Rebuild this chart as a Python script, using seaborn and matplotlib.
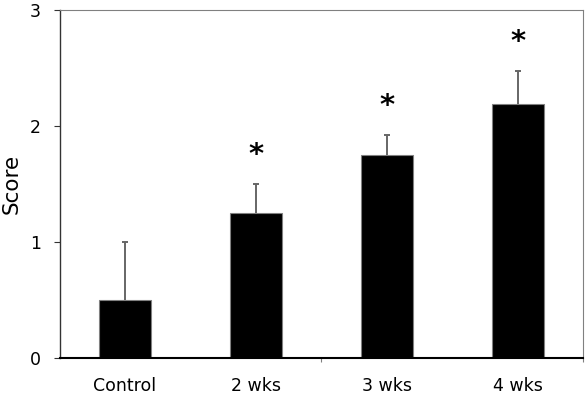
import numpy as np
import matplotlib
matplotlib.use('Agg')
import matplotlib.pyplot as plt
import seaborn as sns
import pandas as pd

# ---------------------------------------------------------------------------
# Data
# ---------------------------------------------------------------------------
groups = ['Control', '2 wks', '3 wks', '4 wks']
scores = [0.5, 1.25, 1.75, 2.19]
err_up = [0.5, 0.25, 0.17, 0.28]
significant = [False, True, True, True]

df = pd.DataFrame({'group': groups, 'score': scores})

sns.set_style('white')
plt.rcParams['font.family'] = ['DejaVu Sans']
plt.rcParams['text.color'] = 'black'
plt.rcParams['axes.labelcolor'] = 'black'
plt.rcParams['xtick.color'] = 'black'
plt.rcParams['ytick.color'] = 'black'

fig = plt.figure(figsize=(5.88, 3.97), dpi=100)
ax = fig.add_axes([0.1012, 0.099, 0.8911, 0.877])

sns.barplot(data=df, x='group', y='score', color='black', width=0.4,
            edgecolor='#808080', linewidth=0.8, saturation=1, ax=ax)

# upper-only error bars with a single cap
x = np.arange(len(groups))
tops = np.array(scores) + np.array(err_up)
ax.vlines(x, scores, tops, color='#666666', linewidth=1.4, zorder=3)
ax.scatter(x, tops, marker='_', s=25, color='#666666', linewidths=1.4, zorder=3)

for xi, t, sig in zip(x, tops, significant):
    if sig:
        ax.annotate('*', (xi, t), xytext=(0, 15), textcoords='offset points',
                    ha='center', va='baseline', fontsize=21, fontweight='bold',
                    color='black')

ax.set_xlim(-0.5, 3.5)
ax.set_ylim(0, 3)
ax.set_yticks([0, 1, 2, 3])
ax.set_xlabel('')
ax.set_ylabel('Score', fontsize=15.5, labelpad=6)

ax.tick_params(axis='y', direction='out', length=4.5, width=0.8, color='#333333',
               pad=9, labelsize=12.5, left=True)
ax.tick_params(axis='x', which='major', length=0, pad=14, labelsize=12.5)
ax.set_xticks([1.5, 3.5], minor=True)
ax.tick_params(axis='x', which='minor', direction='out', length=3, width=0.8,
               color='#808080', bottom=True)

for side in ['left', 'right', 'top', 'bottom']:
    ax.spines[side].set_visible(True)
ax.spines['left'].set_color('#333333')
ax.spines['left'].set_linewidth(1.0)
ax.spines['bottom'].set_color('black')
ax.spines['bottom'].set_linewidth(1.5)
ax.spines['top'].set_color('#808080')
ax.spines['top'].set_linewidth(0.8)
ax.spines['right'].set_color('#808080')
ax.spines['right'].set_linewidth(0.8)

fig.savefig('out.png', dpi=100)
